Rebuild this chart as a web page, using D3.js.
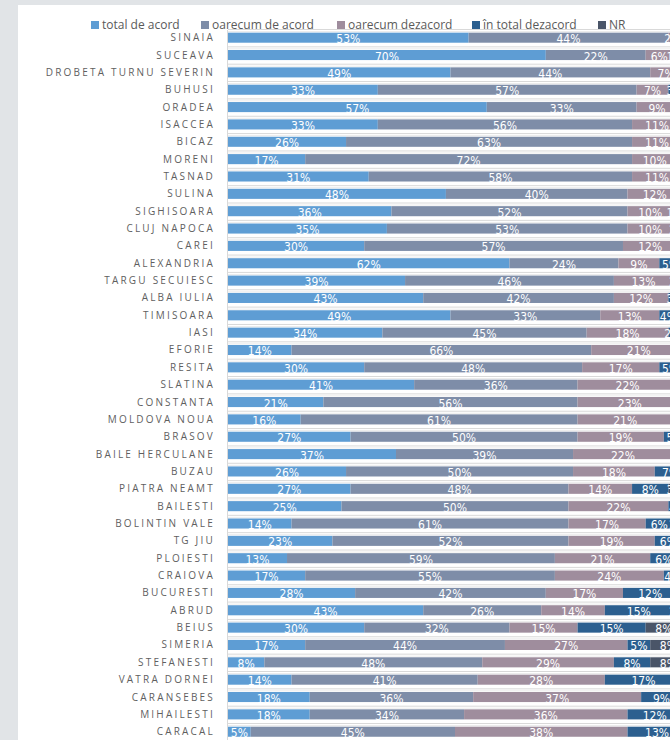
<!DOCTYPE html>
<html><head><meta charset="utf-8">
<script src="https://cdn.jsdelivr.net/npm/d3@7/dist/d3.min.js"></script>
<style>
html,body{margin:0;padding:0;background:#e1e4e7;overflow:hidden;}
svg{display:block;}
</style></head>
<body>
<svg id="c" width="670" height="740"></svg>
<script>
const categories = ["SINAIA","SUCEAVA","DROBETA TURNU SEVERIN","BUHUSI","ORADEA","ISACCEA","BICAZ","MORENI","TASNAD","SULINA","SIGHISOARA","CLUJ NAPOCA","CAREI","ALEXANDRIA","TARGU SECUIESC","ALBA IULIA","TIMISOARA","IASI","EFORIE","RESITA","SLATINA","CONSTANTA","MOLDOVA NOUA","BRASOV","BAILE HERCULANE","BUZAU","PIATRA NEAMT","BAILESTI","BOLINTIN VALE","TG JIU","PLOIESTI","CRAIOVA","BUCURESTI","ABRUD","BEIUS","SIMERIA","STEFANESTI","VATRA DORNEI","CARANSEBES","MIHAILESTI","CARACAL"];
const seriesNames = ["total de acord","oarecum de acord","oarecum dezacord","în total dezacord","NR"];
const totalAcord      = [53,70,49,33,57,33,26,17,31,48,36,35,30,62,39,43,49,34,14,30,41,21,16,27,37,26,27,25,14,23,13,17,28,43,30,17,8,14,18,18,5];
const oarecumAcord    = [44,22,44,57,33,56,63,72,58,40,52,53,57,24,46,42,33,45,66,48,36,56,61,50,39,50,48,50,61,52,59,55,42,26,32,44,48,41,36,34,45];
const oarecumDezacord = [2,6,7,7,9,11,11,10,11,12,10,10,12,9,13,12,13,18,21,17,22,23,21,19,22,18,14,22,17,19,21,24,17,14,15,27,29,28,37,36,38];
const totalDezacord   = [0,1,0,3,1,0,0,1,0,0,1,2,1,5,2,3,4,2,0,5,1,0,3,5,3,7,8,4,6,6,6,4,12,15,15,5,8,17,9,12,13];
const nr              = [1,1,0,0,0,0,0,0,0,0,1,0,0,0,0,0,1,1,0,0,0,0,0,0,0,0,3,0,2,0,1,0,1,2,8,8,8,0,0,0,0];
const colors = ["#5e9dd4","#7e8da8","#9f8d9d","#2c5f8f","#4a5568"];

const seriesData = [totalAcord, oarecumAcord, oarecumDezacord, totalDezacord, nr];
const rows = categories.map((c,i)=>{const o={cat:c}; seriesNames.forEach((s,k)=>o[s]=seriesData[k][i]); return o;});
const stack = d3.stack().keys(seriesNames)(rows);

const svg = d3.select("#c");
svg.append("rect").attr("x",18).attr("y",5).attr("width",700).attr("height",800).attr("fill","#ffffff");

const x = d3.scaleLinear().domain([0,100]).range([228, 682]);
const y = d3.scaleBand().domain(categories).range([29, 740.4]).paddingInner(0.42).paddingOuter(0.21);

// gridlines between rows
const step = y.step();
const g = svg.append("g");
categories.forEach((c,i)=>{
  const yy = y(c) - (step - y.bandwidth())/2;
  g.append("line").attr("x1",228).attr("x2",670).attr("y1",yy+0.5).attr("y2",yy+0.5).attr("stroke","#d9d9d9").attr("stroke-width",1);
  g.append("line").attr("x1",228).attr("x2",670).attr("y1",yy+2.5).attr("y2",yy+2.5).attr("stroke","#ececec").attr("stroke-width",1);
});
svg.append("line").attr("x1",227.5).attr("x2",227.5).attr("y1",30).attr("y2",740).attr("stroke","#d9d9d9");

const layers = svg.selectAll("g.layer").data(stack).join("g").attr("class","layer").attr("fill",(d,i)=>colors[i]);
layers.selectAll("rect").data(d=>d).join("rect")
  .attr("x",d=>x(d[0])).attr("width",d=>x(d[1])-x(d[0]))
  .attr("y",d=>y(d.data.cat)).attr("height",y.bandwidth());

const labels = svg.append("g").attr("font-family","'Liberation Sans Narrow','DejaVu Sans Condensed','Open Sans',sans-serif").attr("font-size",12).attr("fill","#ffffff").attr("text-anchor","middle");
stack.forEach(layer=>{
  layer.forEach(d=>{
    const v = d[1]-d[0];
    if(v<=0) return;
    labels.append("text").attr("x",(x(d[0])+x(d[1]))/2).attr("y",y(d.data.cat)+y.bandwidth()/2+5.5).text(v+"%");
  });
});

// category axis
const ax = svg.append("g").attr("font-family","'Open Sans',sans-serif").attr("font-size",10).attr("fill","#5f5f5f").attr("text-anchor","end").attr("letter-spacing","2.2px");
categories.forEach(c=>{
  ax.append("text").attr("x",215).attr("y",y(c)+y.bandwidth()/2+3.5).text(c);
});

// legend
const legX = [91,201,337,472,598];
const leg = svg.append("g").attr("font-family","'Open Sans',sans-serif").attr("font-size",12).attr("fill","#5a5a5a");
seriesNames.forEach((s,i)=>{
  leg.append("rect").attr("x",legX[i]).attr("y",21).attr("width",8).attr("height",8).attr("fill",colors[i]);
  leg.append("text").attr("x",legX[i]+11).attr("y",29).text(s);
});
</script>
</body></html>
